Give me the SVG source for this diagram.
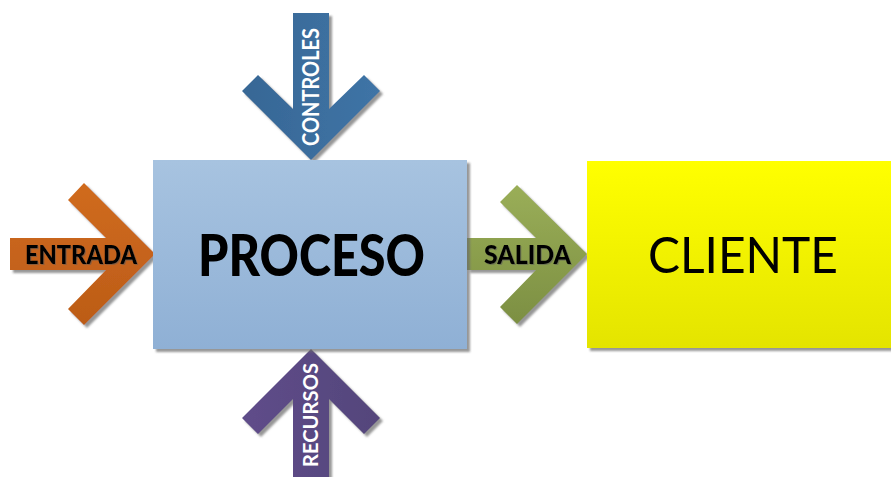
<svg xmlns="http://www.w3.org/2000/svg" width="891" height="477" viewBox="0 0 891 477">
<style>
.lbl{font-family:"Lato","Open Sans","Liberation Sans",sans-serif;font-weight:900;fill:#000}
.wlbl{font-family:"Lato","Open Sans","Liberation Sans",sans-serif;font-weight:bold;fill:#fff}
</style>
<defs>
<filter id="sh" x="-10%" y="-10%" width="130%" height="130%">
<feDropShadow dx="3" dy="3" stdDeviation="1" flood-color="#6b6b6b" flood-opacity="0.7"/>
</filter>
<filter id="tsh" x="-5%" y="-20%" width="115%" height="150%">
<feDropShadow dx="1" dy="1" stdDeviation="0.6" flood-color="#555" flood-opacity="0.5"/>
</filter>
<linearGradient id="gProc" x1="0" y1="0" x2="0" y2="1">
<stop offset="0" stop-color="#A7C3E0"/><stop offset="1" stop-color="#8FB0D5"/>
</linearGradient>
<linearGradient id="gCli" x1="0" y1="0" x2="0" y2="1">
<stop offset="0" stop-color="#FFFF00"/><stop offset="1" stop-color="#E4E400"/>
</linearGradient>
<linearGradient id="gEnt" x1="0" y1="0" x2="0" y2="1">
<stop offset="0" stop-color="#D06B1F"/><stop offset="1" stop-color="#BC5C17"/>
</linearGradient>
<linearGradient id="gSal" x1="0" y1="0" x2="0" y2="1">
<stop offset="0" stop-color="#9AAE58"/><stop offset="1" stop-color="#7C8F42"/>
</linearGradient>
<linearGradient id="gCon" x1="0" y1="0" x2="1" y2="0">
<stop offset="0" stop-color="#376795"/><stop offset="1" stop-color="#3F74A6"/>
</linearGradient>
<linearGradient id="gRec" x1="0" y1="0" x2="1" y2="0">
<stop offset="0" stop-color="#5F4D8A"/><stop offset="1" stop-color="#54457B"/>
</linearGradient>
</defs>

<g id="connectors">
<g id="controles">
<polygon filter="url(#sh)" fill="url(#gCon)" points="293,13 329,13 329,109 364,75 380,91 311,160 242,91 258,75 293,109"/>
<text class="wlbl" transform="translate(319,146) rotate(-90)" font-size="23" textLength="118" lengthAdjust="spacingAndGlyphs">CONTROLES</text>
</g>
<g id="recursos">
<polygon filter="url(#sh)" fill="url(#gRec)" points="311,349 380,418 364,434 329,399 329,477 293,477 293,399 258,434 242,418"/>
<text class="wlbl" transform="translate(318,467) rotate(-90)" font-size="21" textLength="104" lengthAdjust="spacingAndGlyphs">RECURSOS</text>
</g>
<g id="entrada">
<polygon filter="url(#sh)" fill="url(#gEnt)" points="10,238 106,238 68,200 84,183 155,254 84,325 68,309 106,270 10,270"/>
<text class="lbl" filter="url(#tsh)" x="25" y="264" font-size="26" textLength="112" lengthAdjust="spacingAndGlyphs">ENTRADA</text>
</g>
<g id="salida">
<polygon filter="url(#sh)" fill="url(#gSal)" points="467,238 536,238 500,202 517,185 587,254 517,324 500,307 536,270 467,270"/>
<text class="lbl" filter="url(#tsh)" x="484" y="264" font-size="26" textLength="87" lengthAdjust="spacingAndGlyphs">SALIDA</text>
</g>
</g>

<g id="proceso">
<rect x="153" y="160" width="314" height="189" fill="url(#gProc)" filter="url(#sh)"/>
<text class="lbl" x="198" y="276" font-size="58" textLength="227" lengthAdjust="spacingAndGlyphs">PROCESO</text>
</g>

<g id="cliente">
<rect x="587" y="161" width="310" height="187" fill="url(#gCli)" filter="url(#sh)"/>
<text x="648" y="273" font-family="Lato,'Open Sans','Liberation Sans',sans-serif" font-size="51" fill="#000" textLength="190" lengthAdjust="spacingAndGlyphs">CLIENTE</text>
</g>
</svg>
